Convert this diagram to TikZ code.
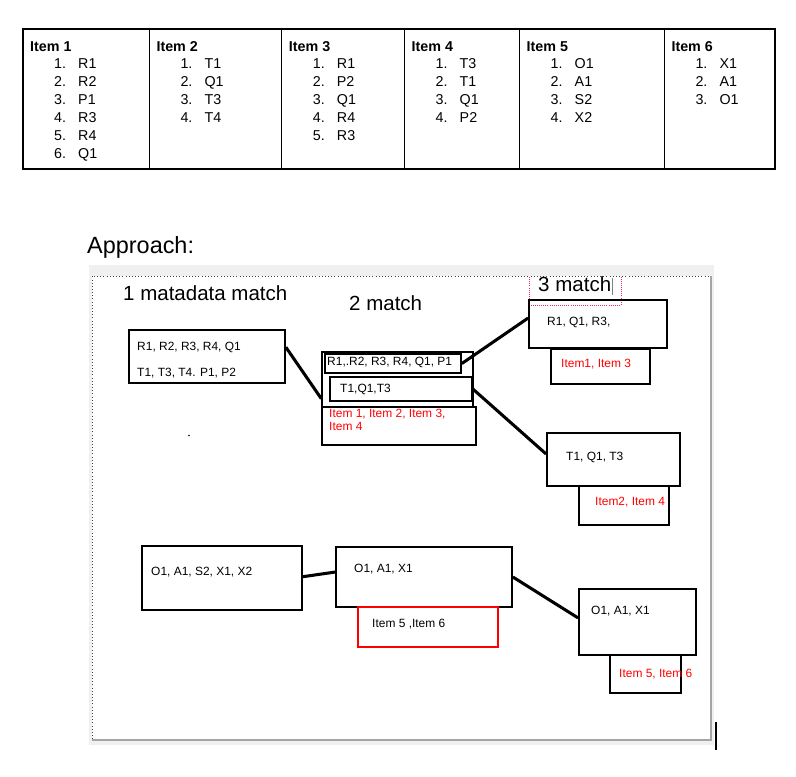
\documentclass[tikz,border=0pt]{standalone}
\usepackage{fontspec}
\setmainfont{Liberation Sans}
\usetikzlibrary{calc}
\usetikzlibrary{fit}

\begin{document}
\begin{tikzpicture}[x=0.03cm,y=-0.03cm,
  txt/.style={inner sep=0pt, anchor=base west, font=\fontsize{10.2}{12}\selectfont},
  redtxt/.style={txt, text=red},
  cell/.style={inner sep=0pt, anchor=base west, font=\fontsize{12.2}{14}\selectfont},
  head/.style={cell, font=\fontsize{12.2}{14}\selectfont\bfseries},
  title/.style={inner sep=0pt, anchor=base west, font=\fontsize{17.5}{20}\selectfont},
  box/.style={draw, line width=1.5pt, inner sep=0pt, fit={#1}},
  redbox/.style={box={#1}, draw=red, line width=1pt},
  link/.style={line width=2.6pt}]
\definecolor{panelgray}{RGB}{240,240,240}
\definecolor{framegray}{RGB}{165,165,165}
\definecolor{markpink}{RGB}{240,40,110}

\useasboundingbox (0,0) rectangle (796,776);

% table of items
\draw[line width=1pt] (23,29) rectangle (775,169);
\foreach \xx in {149.3,281.7,404.5,519.5,664.3}
  \draw[line width=1pt] (\xx,29) -- (\xx,169);

\foreach \colx/\num/\entries in {23/1/{R1,R2,P1,R3,R4,Q1},149.3/2/{T1,Q1,T3,T4},
    281.7/3/{R1,P2,Q1,R4,R3},404.5/4/{T3,T1,Q1,P2},519.5/5/{O1,A1,S2,X2},664.3/6/{X1,A1,O1}}{
  \node[head] (head\num) at (\colx+7,51) {Item \num};
  \foreach \e [count=\k] in \entries {
    \node[cell] (num\num-\k) at (\colx+31,51+17.9*\k) {\k.};
    \node[cell] (ent\num-\k) at (\colx+55,51+17.9*\k) {\e};
  }
}

\node[inner sep=0pt, anchor=base west, font=\fontsize{20}{24}\selectfont] (approach) at (87,253) {Approach:};

% panel
\fill[panelgray] (89,265) rectangle (714,745);
\fill[white] (92,276) rectangle (710,739);
\draw[framegray, line width=1.4pt] (92,740) -- (711,740) -- (711,276);
\draw[black!75, dotted, line width=0.7pt] (92,739) -- (92,276) -- (710,276);
\draw[line width=1.2pt] (716,722) -- (716,750);

\node[title] (t1) at (123,300) {1 matadata match};
\node[title] (t2) at (349,310) {2 match};
\node[title] (t3) at (538,291.5) {3 match};
\draw[markpink, densely dotted, line width=0.8pt] (529,277) -- (529,305) -- (621,305) -- (621,277);
\draw[gray, line width=0.8pt] (612,278) -- (612,295);

% first level
\node[box={(129,330) (285,383)}] (m1top) {};
\node[txt] (m1topr) at (137,350) {R1, R2, R3, R4, Q1};
\node[txt] (m1topt) at (137,376) {T1, T3, T4. P1, P2};
\fill (189,435.5) circle (0.7pt);

\node[box={(142,546) (302,610)}] (m1bot) {};
\node[txt] (m1bottxt) at (151,575) {O1, A1, S2, X1, X2};

% second level
\node[box={(322,352) (473,407)}, line width=1.2pt] (m2top) {};
\node[box={(325,354) (461,373)}] (m2r) {};
\node[txt] (m2rtxt) at (327,365) {R1,.R2, R3, R4, Q1, P1};
\node[box={(330,377) (472,401)}] (m2t) {};
\node[txt] (m2ttxt) at (340,392) {T1,Q1,T3};
\node[box={(322,407) (476,445)}] (m2items) {};
\node[redtxt, align=left, font=\fontsize{10.2}{10.8}\selectfont] (m2itemstxt) at (329,430)
  {Item 1, Item 2, Item 3,\\Item 4};

\node[box={(336,547) (512,607)}] (m2bot) {};
\node[txt] (m2bottxt) at (354,572.7) {O1, A1, X1};
\node[redbox={(358,607) (498,647)}] (m2botitems) {};
\node[txt] (m2botitemstxt) at (372,627) {Item 5 ,Item 6};

% third level
\node[box={(529,300) (667,348)}] (m3r) {};
\node[txt] (m3rtxt) at (547,325) {R1, Q1, R3,};
\node[box={(551,349) (650,384)}] (m3ritems) {};
\node[redtxt] (m3ritemstxt) at (561,367) {Item1, Item 3};

\node[box={(547,433) (680,486)}] (m3t) {};
\node[txt] (m3ttxt) at (566,460) {T1, Q1, T3};
\node[box={(579,486) (669,525)}] (m3titems) {};
\node[redtxt] (m3titemstxt) at (595,505) {Item2, Item 4};

\node[box={(579,589) (696,655)}] (m3bot) {};
\node[txt] (m3bottxt) at (591,614) {O1, A1, X1};
\node[box={(610,655) (681,693)}] (m3botitems) {};
\node[redtxt] (m3botitemstxt) at (619,677) {Item 5, Item 6};

% links
\draw[link] ($(m1top.north east)!0.33!(m1top.south east)$) -- ($(m2top.north west)!0.84!(m2top.south west)$);
\draw[link] (m2r.east) -- ($(m3r.north west)!0.38!(m3r.south west)$);
\draw[link] (m2t.east) -- ($(m3t.north west)!0.4!(m3t.south west)$);
\draw[link] ($(m1bot.north east)!0.48!(m1bot.south east)$) -- ($(m2bot.north west)!0.42!(m2bot.south west)$);
\draw[link] (m2bot.east) -- ($(m3bot.north west)!0.44!(m3bot.south west)$);

\end{tikzpicture}
\end{document}
